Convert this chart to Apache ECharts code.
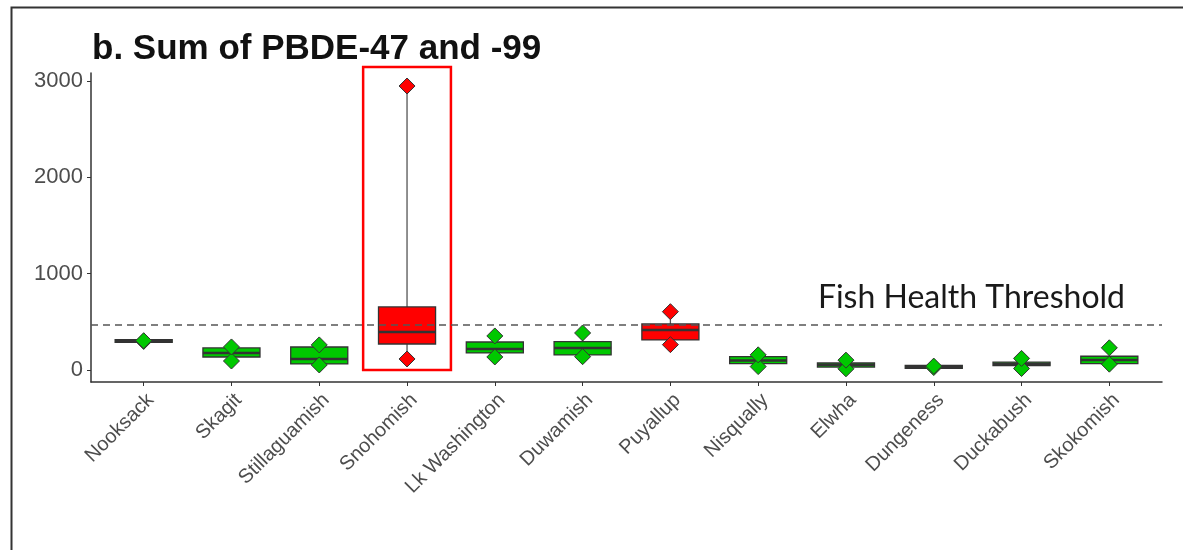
<!DOCTYPE html>
<html>
<head>
<meta charset="utf-8">
<script src="https://cdn.jsdelivr.net/npm/echarts@6/dist/echarts.min.js"></script>
<style>
  html, body { margin: 0; padding: 0; background: #fff; }
  #chart { width: 1183px; height: 550px; }
</style>
</head>
<body>
<div id="chart"></div>
<script>
  // sites along the x axis
  var sites = ['Nooksack', 'Skagit', 'Stillaguamish', 'Snohomish', 'Lk Washington', 'Duwamish',
               'Puyallup', 'Nisqually', 'Elwha', 'Dungeness', 'Duckabush', 'Skokomish'];
  // box statistics
  var boxMin = [296, 93, 52, 114, 135, 138, 263, 35, 12, 25, 15, 60];
  var boxQ1  = [296, 145, 73, 280, 187, 166, 322, 77, 40, 27, 55, 76];
  var boxMed = [300, 176, 114, 394, 218, 228, 415, 98, 52, 32, 62, 104];
  var boxQ3  = [304, 218, 228, 644, 280, 283, 468, 129, 62, 37, 70, 132];
  var boxMax = [304, 239, 260, 2948, 353, 384, 605, 157, 102, 40, 120, 230];
  var yTicks = [0, 1000, 2000, 3000];
  var threshold = 472;
  var highlighted = ['Snohomish'];

  var GREEN = '#00c800';
  var RED = '#ff0000';
  function siteColor(i) {
    return boxMax[i] > threshold ? RED : GREEN;
  }

  var siteIdx = sites.map(function (s, i) { return i; });
  var boxData = sites.map(function (s, i) {
    return [i, boxMin[i], boxQ1[i], boxMed[i], boxQ3[i], boxMax[i]];
  });
  var pointData = [];
  sites.forEach(function (s, i) {
    pointData.push([i, boxMin[i]]);
    pointData.push([i, boxMax[i]]);
  });

  function renderBox(params, api) {
    var i = api.value(0);
    var bw = api.size([1, 0])[0];
    var half = bw * 0.325;
    var pMin = api.coord([i, api.value(1)]);
    var pQ1 = api.coord([i, api.value(2)]);
    var pMed = api.coord([i, api.value(3)]);
    var pQ3 = api.coord([i, api.value(4)]);
    var pMax = api.coord([i, api.value(5)]);
    var x = pMed[0];
    var kids = [
      { type: 'line', shape: { x1: x, y1: pQ3[1], x2: x, y2: pMax[1] },
        style: { stroke: '#555', lineWidth: 1.3 } },
      { type: 'line', shape: { x1: x, y1: pQ1[1], x2: x, y2: pMin[1] },
        style: { stroke: '#555', lineWidth: 1.3 } },
      { type: 'rect', shape: { x: x - half, y: pQ3[1] - 1, width: half * 2, height: pQ1[1] - pQ3[1] + 2 },
        style: { fill: siteColor(i), stroke: '#333', lineWidth: 1.3 } },
      { type: 'line', shape: { x1: x - half, y1: pMed[1], x2: x + half, y2: pMed[1] },
        style: { stroke: '#333', lineWidth: 2.6 } }
    ];
    if (highlighted.indexOf(sites[i]) >= 0) {
      var p0 = api.coord([i, 0]);
      kids.push({ type: 'rect', shape: { x: x - bw / 2, y: pMax[1] - 19, width: bw, height: p0[1] - pMax[1] + 19 },
        style: { fill: 'none', stroke: RED, lineWidth: 2.5 } });
    }
    return { type: 'group', children: kids };
  }

  var chart = echarts.init(document.getElementById('chart'));
  chart.setOption({
    backgroundColor: '#fff',
    animation: false,
    title: {
      text: 'b. Sum of PBDE-47 and -99',
      left: 87,
      top: 27,
      textStyle: { fontFamily: 'Liberation Sans', fontWeight: 'bold', fontSize: 35, color: '#111' }
    },
    graphic: [{
      type: 'rect', left: 9, top: 5,
      shape: { width: 1300, height: 700 },
      style: { fill: 'none', stroke: '#333', lineWidth: 2 }
    }],
    grid: { left: 91, right: 21, top: 73, bottom: 168 },
    xAxis: {
      type: 'value',
      min: -0.6,
      max: 11.6,
      splitLine: { show: false },
      axisLine: { onZero: false, lineStyle: { color: '#333', width: 1.5 } },
      axisTick: { show: true, length: 4, customValues: siteIdx, lineStyle: { color: '#333' } },
      axisLabel: {
        customValues: siteIdx,
        formatter: function (v) { return sites[v]; },
        rotate: 45, margin: 8, verticalAlign: 'top',
        fontFamily: 'Liberation Sans', fontSize: 20, color: '#4d4d4d'
      }
    },
    yAxis: {
      type: 'value',
      min: -125,
      max: 3083,
      splitLine: { show: false },
      axisLine: { show: true, onZero: false, lineStyle: { color: '#333', width: 1.5 } },
      axisTick: { show: true, length: 4, customValues: yTicks, lineStyle: { color: '#333' } },
      axisLabel: {
        customValues: yTicks,
        formatter: function (v) { return String(v); },
        margin: 8, fontFamily: 'Liberation Sans', fontSize: 22, color: '#4d4d4d'
      }
    },
    series: [
      {
        type: 'custom',
        renderItem: renderBox,
        encode: { x: 0, y: [1, 2, 3, 4, 5] },
        data: boxData,
        z: 2,
        markLine: {
          silent: true,
          symbol: 'none',
          lineStyle: { type: [7, 5], color: '#555', width: 1.5 },
          label: {
            show: true,
            position: 'insideEndTop',
            formatter: 'Fish Health Threshold',
            fontFamily: 'Lato',
            fontSize: 32,
            color: '#1a1a1a',
            padding: [0, 32, 6, 0]
          },
          data: [{ yAxis: threshold }]
        }
      },
      {
        type: 'scatter',
        data: pointData,
        symbol: 'diamond',
        symbolSize: 16,
        z: 3,
        itemStyle: {
          color: function (p) { return siteColor(p.value[0]); },
          borderColor: '#333',
          borderWidth: 1,
          opacity: 1
        }
      }
    ]
  });
</script>
</body>
</html>
